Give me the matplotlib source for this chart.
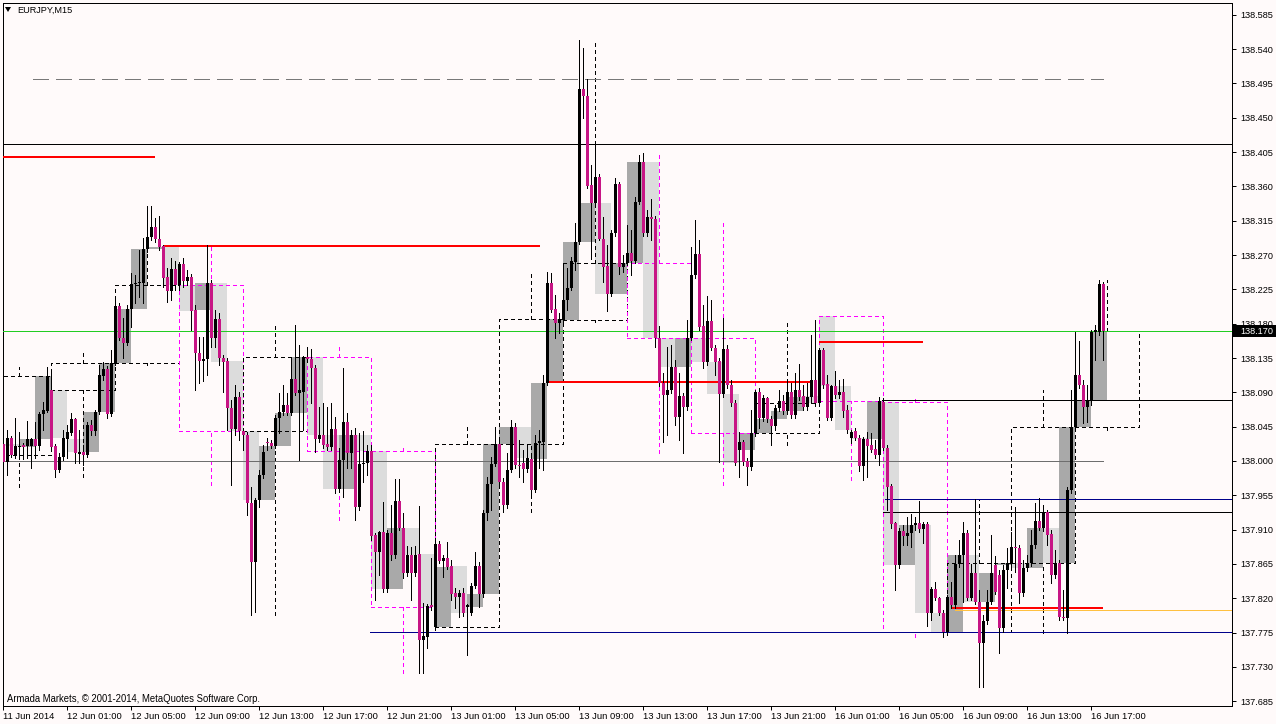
import matplotlib
matplotlib.use("Agg")
import matplotlib.pyplot as plt
from matplotlib.patches import Rectangle, Polygon

# ---------------- data (EURJPY M15, bar -4 .. 275) ----------------
symbol = "EURJPY,M15"
footer = "Armada Markets, \u00a9 2001-2014, MetaQuotes Software Corp."
first_bar = -4

opens = [
    138.008, 137.999, 137.988, 137.995,
    138.022, 137.999, 138.030, 138.008, 138.018, 138.021, 138.020, 138.020, 138.029, 138.020,
    138.062, 138.066, 138.093, 138.020, 137.988, 138.005, 138.029, 138.037, 138.055, 138.009,
    138.012, 138.008, 138.047, 138.039, 138.064, 138.111, 138.121, 138.062, 138.128, 138.203,
    138.161, 138.155, 138.199, 138.232, 138.233, 138.233, 138.278, 138.294, 138.307, 138.291,
    138.282, 138.241, 138.223, 138.252, 138.231, 138.258, 138.236, 138.241, 138.198, 138.142,
    138.131, 138.134, 138.233, 138.161, 138.186, 138.135, 138.131, 138.069, 138.042, 138.084,
    138.039, 138.034, 137.945, 137.868, 137.949, 137.982, 138.025, 138.024, 138.020, 138.056,
    138.064, 138.073, 138.063, 138.108, 138.089, 138.090, 138.136, 138.134, 138.122, 138.029,
    138.034, 138.022, 138.018, 138.042, 137.963, 138.001, 138.051, 138.010, 138.034, 137.940,
    137.996, 137.997, 138.013, 137.903, 137.881, 137.907, 137.832, 137.906, 137.877, 137.948,
    137.912, 137.853, 137.877, 137.853, 137.878, 137.765, 137.769, 137.811, 137.782, 137.891,
    137.869, 137.873, 137.862, 137.827, 137.822, 137.827, 137.809, 137.801, 137.836, 137.862,
    137.826, 137.932, 137.970, 137.996, 138.022, 137.972, 137.942, 137.988, 138.045, 137.995,
    137.997, 137.990, 138.003, 137.962, 138.024, 138.025, 138.102, 138.233, 138.199, 138.181,
    138.185, 138.211, 138.227, 138.261, 138.287, 138.488, 138.479, 138.362, 138.338, 138.372,
    138.291, 138.256, 138.219, 138.299, 138.363, 138.254, 138.260, 138.273, 138.262, 138.340,
    138.392, 138.299, 138.320, 138.317, 138.161, 138.102, 138.087, 138.093, 138.123, 138.058,
    138.085, 138.071, 138.161, 138.244, 138.271, 138.177, 138.130, 138.184, 138.148, 138.131,
    138.088, 138.147, 138.100, 138.076, 138.014, 138.025, 138.000, 137.992, 138.037, 138.090,
    138.056, 138.083, 138.055, 138.046, 138.069, 138.079, 138.066, 138.090, 138.060, 138.093,
    138.085, 138.071, 138.084, 138.106, 138.076, 138.146, 138.101, 138.056, 138.098, 138.087,
    138.090, 138.067, 138.030, 138.039, 138.030, 137.993, 138.029, 138.021, 138.016, 138.008,
    138.077, 138.017, 137.967, 137.919, 137.864, 137.908, 137.902, 137.906, 137.916, 137.919,
    137.911, 137.917, 137.801, 137.832, 137.820, 137.801, 137.776, 137.822, 137.811, 137.865,
    137.877, 137.906, 137.820, 137.853, 137.815, 137.761, 137.790, 137.815, 137.864, 137.850,
    137.781, 137.857, 137.866, 137.887, 137.886, 137.827, 137.860, 137.866, 137.890, 137.921,
    137.912, 137.933, 137.904, 137.851, 137.866, 137.795, 137.794, 137.962, 138.045, 138.113,
    138.100, 138.071, 138.079, 138.169, 138.169, 138.232,
]
highs = [
    138.014, 138.008, 138.001, 138.028,
    138.028, 138.041, 138.033, 138.056, 138.038, 138.024, 138.052, 138.030, 138.051, 138.064,
    138.077, 138.123, 138.117, 138.022, 138.010, 138.041, 138.047, 138.063, 138.056, 138.041,
    138.021, 138.051, 138.054, 138.067, 138.126, 138.130, 138.125, 138.146, 138.211, 138.207,
    138.187, 138.205, 138.246, 138.244, 138.277, 138.292, 138.334, 138.334, 138.319, 138.321,
    138.283, 138.253, 138.266, 138.262, 138.261, 138.266, 138.250, 138.245, 138.205, 138.163,
    138.163, 138.283, 138.237, 138.198, 138.194, 138.139, 138.135, 138.080, 138.100, 138.090,
    138.043, 138.038, 137.966, 137.951, 137.988, 138.021, 138.030, 138.028, 138.060, 138.089,
    138.100, 138.089, 138.136, 138.178, 138.152, 138.138, 138.149, 138.147, 138.126, 138.071,
    138.076, 138.071, 138.076, 138.058, 138.017, 138.122, 138.063, 138.041, 138.043, 138.037,
    138.039, 138.021, 138.021, 137.906, 137.908, 137.946, 137.910, 137.942, 137.976, 137.976,
    137.932, 137.889, 137.887, 137.889, 137.941, 137.814, 137.813, 137.873, 137.899, 137.895,
    137.877, 137.894, 137.870, 137.834, 137.831, 137.834, 137.813, 137.840, 137.881, 137.868,
    137.936, 137.979, 138.005, 138.045, 138.028, 137.978, 138.010, 138.054, 138.050, 138.028,
    138.014, 138.021, 138.008, 138.034, 138.041, 138.113, 138.248, 138.246, 138.218, 138.194,
    138.260, 138.253, 138.267, 138.312, 138.552, 138.541, 138.501, 138.388, 138.417, 138.376,
    138.320, 138.283, 138.303, 138.371, 138.366, 138.270, 138.309, 138.303, 138.346, 138.401,
    138.404, 138.329, 138.343, 138.321, 138.177, 138.115, 138.149, 138.152, 138.132, 138.115,
    138.089, 138.185, 138.281, 138.316, 138.290, 138.205, 138.216, 138.211, 138.152, 138.135,
    138.187, 138.152, 138.106, 138.080, 138.038, 138.028, 138.004, 138.067, 138.093, 138.096,
    138.087, 138.084, 138.059, 138.073, 138.093, 138.087, 138.106, 138.102, 138.115, 138.127,
    138.100, 138.102, 138.165, 138.185, 138.148, 138.148, 138.113, 138.100, 138.118, 138.106,
    138.108, 138.073, 138.041, 138.043, 138.034, 138.031, 138.038, 138.037, 138.028, 138.084,
    138.083, 138.021, 137.970, 137.920, 137.912, 137.916, 137.927, 137.931, 137.927, 137.948,
    137.920, 137.920, 137.835, 137.841, 137.822, 137.805, 137.824, 137.841, 137.877, 137.896,
    137.920, 137.910, 137.865, 137.950, 137.831, 137.798, 137.831, 137.903, 137.875, 137.857,
    137.864, 137.886, 137.907, 137.940, 137.890, 137.870, 137.877, 137.910, 137.945, 137.951,
    137.942, 137.936, 137.910, 137.883, 137.870, 137.831, 137.966, 138.093, 138.168, 138.157,
    138.106, 138.100, 138.172, 138.178, 138.237, 138.235,
]
lows = [
    137.988, 137.966, 137.978, 137.988,
    137.988, 137.982, 138.005, 138.004, 138.003, 138.003, 138.004, 137.991, 138.004, 138.014,
    138.041, 138.064, 138.017, 137.979, 137.986, 138.001, 138.004, 138.034, 137.997, 137.997,
    137.995, 138.005, 138.034, 138.034, 138.062, 138.106, 138.056, 138.059, 138.126, 138.159,
    138.135, 138.152, 138.176, 138.207, 138.215, 138.207, 138.274, 138.290, 138.287, 138.277,
    138.228, 138.208, 138.211, 138.224, 138.224, 138.228, 138.231, 138.172, 138.093, 138.102,
    138.105, 138.113, 138.149, 138.149, 138.126, 138.090, 138.041, 137.969, 138.034, 138.028,
    138.014, 137.929, 137.798, 137.802, 137.940, 137.978, 138.014, 138.017, 138.017, 138.037,
    138.060, 138.060, 138.060, 138.087, 138.001, 138.041, 138.130, 138.076, 138.012, 138.025,
    138.017, 138.014, 138.014, 137.958, 137.959, 137.953, 137.991, 137.991, 137.923, 137.936,
    137.972, 137.982, 137.896, 137.818, 137.851, 137.828, 137.828, 137.870, 137.873, 137.910,
    137.847, 137.849, 137.818, 137.849, 137.722, 137.722, 137.755, 137.805, 137.778, 137.866,
    137.848, 137.858, 137.818, 137.807, 137.795, 137.797, 137.746, 137.798, 137.833, 137.809,
    137.822, 137.923, 137.936, 137.993, 137.969, 137.933, 137.938, 137.986, 137.991, 137.979,
    137.972, 137.986, 137.955, 137.959, 137.991, 137.988, 138.100, 138.195, 138.161, 138.168,
    138.182, 138.198, 138.224, 138.250, 138.284, 138.450, 138.358, 138.265, 138.334, 138.290,
    138.235, 138.197, 138.216, 138.295, 138.245, 138.248, 138.257, 138.244, 138.260, 138.337,
    138.295, 138.295, 138.290, 138.149, 138.098, 138.025, 138.034, 138.089, 138.047, 138.028,
    138.010, 138.067, 138.159, 138.240, 138.172, 138.122, 138.126, 138.146, 138.113, 137.999,
    138.084, 138.096, 138.072, 137.995, 137.979, 137.995, 137.969, 137.988, 138.033, 138.043,
    138.052, 138.051, 138.021, 138.041, 138.066, 138.062, 138.062, 138.056, 138.056, 138.080,
    138.067, 138.067, 138.076, 138.072, 138.072, 138.096, 138.054, 138.054, 138.083, 138.083,
    138.058, 138.037, 138.024, 138.028, 137.987, 137.975, 137.979, 138.012, 138.004, 137.995,
    138.014, 137.936, 137.912, 137.831, 137.860, 137.890, 137.890, 137.887, 137.910, 137.907,
    137.892, 137.784, 137.792, 137.818, 137.798, 137.769, 137.772, 137.807, 137.807, 137.861,
    137.815, 137.818, 137.818, 137.813, 137.704, 137.704, 137.786, 137.813, 137.826, 137.748,
    137.776, 137.833, 137.862, 137.854, 137.814, 137.823, 137.856, 137.862, 137.886, 137.910,
    137.908, 137.890, 137.840, 137.847, 137.792, 137.792, 137.775, 137.958, 138.041, 138.096,
    138.050, 138.051, 138.073, 138.132, 138.165, 138.132,
]
closes = [
    137.999, 137.988, 137.995, 138.022,
    137.999, 138.030, 138.008, 138.020, 138.020, 138.018, 138.029, 138.029, 138.020, 138.062,
    138.067, 138.111, 138.018, 137.988, 138.005, 138.030, 138.038, 138.055, 138.010, 138.012,
    138.008, 138.047, 138.039, 138.064, 138.113, 138.121, 138.062, 138.128, 138.203, 138.161,
    138.155, 138.199, 138.232, 138.233, 138.235, 138.278, 138.294, 138.307, 138.291, 138.281,
    138.240, 138.223, 138.252, 138.231, 138.258, 138.236, 138.241, 138.197, 138.142, 138.131,
    138.134, 138.233, 138.161, 138.186, 138.135, 138.130, 138.069, 138.042, 138.084, 138.039,
    138.034, 137.945, 137.868, 137.949, 137.982, 138.012, 138.024, 138.020, 138.056, 138.064,
    138.073, 138.063, 138.108, 138.089, 138.093, 138.136, 138.134, 138.122, 138.029, 138.034,
    138.021, 138.018, 138.042, 137.963, 138.001, 138.051, 138.010, 138.034, 137.940, 137.996,
    137.997, 138.013, 137.902, 137.881, 137.907, 137.832, 137.906, 137.877, 137.948, 137.912,
    137.853, 137.877, 137.853, 137.877, 137.765, 137.771, 137.810, 137.809, 137.891, 137.869,
    137.873, 137.861, 137.826, 137.822, 137.827, 137.801, 137.811, 137.836, 137.862, 137.826,
    137.932, 137.970, 137.996, 138.022, 137.972, 137.942, 137.988, 138.045, 137.995, 137.993,
    137.990, 138.004, 137.962, 138.024, 138.026, 138.102, 138.233, 138.198, 138.181, 138.186,
    138.211, 138.227, 138.262, 138.287, 138.488, 138.479, 138.361, 138.338, 138.372, 138.291,
    138.254, 138.219, 138.299, 138.363, 138.254, 138.260, 138.273, 138.262, 138.340, 138.392,
    138.299, 138.320, 138.317, 138.161, 138.102, 138.087, 138.093, 138.123, 138.058, 138.085,
    138.071, 138.161, 138.244, 138.271, 138.176, 138.130, 138.184, 138.148, 138.130, 138.088,
    138.147, 138.100, 138.076, 137.997, 138.025, 137.999, 137.992, 138.037, 138.090, 138.056,
    138.083, 138.055, 138.046, 138.069, 138.079, 138.066, 138.090, 138.060, 138.093, 138.084,
    138.071, 138.084, 138.106, 138.076, 138.146, 138.100, 138.056, 138.098, 138.087, 138.090,
    138.066, 138.041, 138.038, 138.030, 137.993, 138.029, 138.020, 138.014, 138.008, 138.079,
    138.017, 137.966, 137.917, 137.864, 137.908, 137.902, 137.906, 137.916, 137.919, 137.911,
    137.917, 137.801, 137.832, 137.820, 137.801, 137.776, 137.822, 137.811, 137.865, 137.877,
    137.906, 137.820, 137.853, 137.815, 137.761, 137.790, 137.815, 137.853, 137.828, 137.781,
    137.857, 137.866, 137.887, 137.886, 137.827, 137.860, 137.866, 137.890, 137.921, 137.912,
    137.933, 137.903, 137.851, 137.866, 137.795, 137.794, 137.962, 138.045, 138.113, 138.100,
    138.071, 138.079, 138.169, 138.172, 138.232, 138.170,
]

# higher-timeframe session opens that differ from the first M15 open (weekly gap)
session_open_bars = [204]
session_open_prices = [138.190]

time_labels = ["11 Jun 2014", "12 Jun 01:00", "12 Jun 05:00", "12 Jun 09:00", "12 Jun 13:00",
               "12 Jun 17:00", "12 Jun 21:00", "13 Jun 01:00", "13 Jun 05:00", "13 Jun 09:00",
               "13 Jun 13:00", "13 Jun 17:00", "13 Jun 21:00", "16 Jun 01:00", "16 Jun 05:00",
               "16 Jun 09:00", "16 Jun 13:00", "16 Jun 17:00"]
time_label_bars = [0, 16, 32, 48, 64, 80, 96, 112, 128, 144, 160, 176, 192, 208, 224, 240, 256, 272]

price_ticks = [138.585, 138.540, 138.495, 138.450, 138.405, 138.360, 138.315, 138.270, 138.225,
               138.180, 138.135, 138.090, 138.045, 138.000, 137.955, 137.910, 137.865, 137.820,
               137.775, 137.730, 137.685]
current_price = 138.170

# horizontal level objects on the chart (price levels)
level_prices = [138.416, 138.501, 138.398, 138.282, 138.104, 138.156, 137.805, 137.807,
                138.080, 138.000, 137.950, 137.933, 137.776, 138.170]

# ---------------- figure ----------------
W, H, DPI = 1276, 724, 100
BG = "#fffafa"
BEAR = "#c71585"
H4_BEAR = "#ff00ff"
PX = 72.0 / DPI  # one pixel in points
FONT = "Liberation Sans"

fig = plt.figure(figsize=(W / DPI, H / DPI), dpi=DPI, facecolor=BG)
L, R, T, B = 3, 1232, 3, 706
ax = fig.add_axes([L / W, 1 - B / H, (R - L) / W, (B - T) / H], facecolor=BG)
ax.set_xlim(-0.075, 307.175)
ax.set_ylim(137.6788, 138.6004)

bars = list(range(first_bar, first_bar + len(closes)))
sess_open = dict(zip(session_open_bars, session_open_prices))


def htf_open(g):
    return sess_open.get(bars[g], opens[g])


# ---- H1 filled boxes (from the first bar of the hour to the first bar of the next)
for g in range(0, len(bars), 4):
    o = htf_open(g)
    c = closes[min(g + 3, len(bars) - 1)]
    col = "#a9a9a9" if c > o else "#dcdcdc"
    ax.add_patch(Rectangle((bars[g], min(o, c)), 4, max(abs(c - o), 0.0013),
                           facecolor=col, edgecolor="none", zorder=1, antialiased=False))

# ---- H4 dotted boxes
for g in range(0, len(bars), 16):
    last = min(g + 15, len(bars) - 1)
    o = htf_open(g)
    c = closes[last]
    hi = max(highs[g:last + 1] + [o])
    lo = min(lows[g:last + 1] + [o])
    col = "black" if c > o else H4_BEAR
    ax.add_patch(Rectangle((bars[g], min(o, c)), 16, abs(c - o), fill=False,
                           edgecolor=col, linestyle=(0, (3, 3)), linewidth=PX, zorder=2,
                           antialiased=False))
    cx = bars[g] + 8
    ax.plot([cx, cx], [max(o, c), hi], color=col, linestyle=(0, (3, 3)), linewidth=PX,
            zorder=2, antialiased=False)
    ax.plot([cx, cx], [lo, min(o, c)], color=col, linestyle=(0, (3, 3)), linewidth=PX,
            zorder=2, antialiased=False)

# ---- horizontal levels
segs = [  # (level index, start bar, end bar, color, width px, style)
    (0, -1, 308, "black", 1, "-"),
    (1, 7.4, 274.9, "#787878", 1, (0, (16, 8))),
    (2, -1, 37.9, "red", 2, "-"),
    (3, 40.0, 134.2, "red", 2, "-"),
    (4, 136.2, 201.7, "red", 2, "-"),
    (5, 204.0, 230.0, "red", 2, "-"),
    (6, 238.0, 308, "#ffc040", 1, "-"),
    (7, 236.8, 275.0, "red", 2, "-"),
    (8, 219.7, 308, "black", 1, "-"),
    (9, -1, 274.9, "#6e6e6e", 1, "-"),
    (10, 220.4, 308, "#00008b", 1, "-"),
    (11, 220.0, 308, "black", 1, "-"),
    (12, 91.7, 308, "#00008b", 1, "-"),
    (13, -1, 308, "#22cc22", 1, "-"),
]
for k, x0, x1, col, wpx, ls in segs:
    ax.plot([x0, x1], [level_prices[k]] * 2, color=col, linewidth=wpx * PX, linestyle=ls,
            zorder=3, antialiased=False, solid_capstyle="butt")

# ---- candles
for b, o, h, l, c in zip(bars, opens, highs, lows, closes):
    ax.plot([b, b], [min(l, o, c), max(h, o, c)], color="black", linewidth=PX, zorder=5,
            antialiased=False, solid_capstyle="butt")
    col = "black" if c > o else BEAR
    ax.add_patch(Rectangle((b - 0.375, min(o, c)), 0.75, max(abs(c - o), 0.0013),
                           facecolor=col, edgecolor="none", zorder=6, antialiased=False))

# ---- axes styling
for s in ax.spines.values():
    s.set_color("black")
    s.set_linewidth(PX)
ax.yaxis.tick_right()
ax.set_yticks(price_ticks)
ax.set_yticklabels([f"{p:.3f}" for p in price_ticks])
ax.tick_params(axis="y", which="both", direction="out", length=4 * PX, width=PX, pad=4 * PX,
               labelsize=6.6, colors="black")
ax.set_xticks(time_label_bars)
ax.set_xticklabels(time_labels)
ax.tick_params(axis="x", direction="out", length=4 * PX, width=PX, pad=1.5, labelsize=6.8)
for lab in ax.get_xticklabels():
    lab.set_horizontalalignment("left")
for lab in ax.get_xticklabels() + ax.get_yticklabels():
    lab.set_fontfamily(FONT)

# ---- current price tag
yf = 1 - (461 - (current_price - 138.0) / 0.001311) / H
fig.patches.append(Rectangle((1233 / W, yf - 6 / H), 43 / W, 12 / H, transform=fig.transFigure,
                             facecolor="black", edgecolor="none", zorder=10))
fig.text(1240 / W, yf, f"{current_price:.3f}", color="white", fontsize=6.6,
         family=FONT, va="center", ha="left", zorder=11)

# ---- title and footer
fig.patches.append(Polygon([[5 / W, 1 - 7 / H], [11 / W, 1 - 7 / H], [8 / W, 1 - 12 / H]],
                           closed=True, transform=fig.transFigure, facecolor="black",
                           edgecolor="none", zorder=10))
fig.text(17 / W, 1 - 10 / H, symbol, fontsize=6.6, family=FONT, va="center",
         ha="left", color="black")
fig.text(7 / W, 1 - 699 / H, footer, fontsize=6.85, family=FONT, va="center",
         ha="left", color="black")

fig.savefig("out.png", dpi=DPI, facecolor=BG)
